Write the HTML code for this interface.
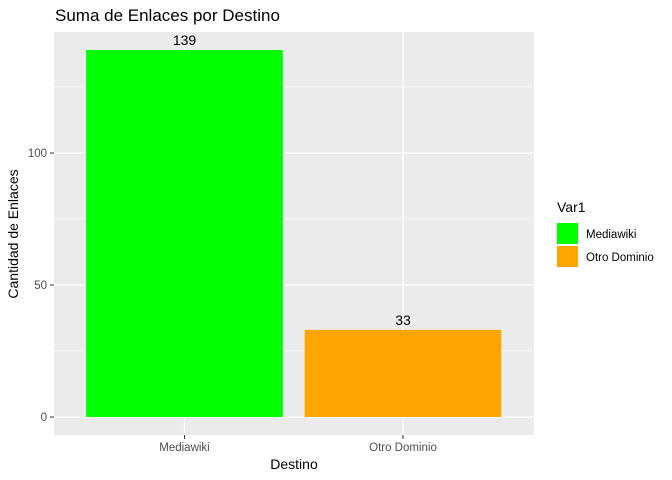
<!DOCTYPE html>
<html><head><meta charset="utf-8"><style>body{margin:0;background:#fff}svg{display:block;font-family:"Liberation Sans",sans-serif}</style></head>
<body>
<svg id="chart" width="672" height="480">
<text x="55" y="21" font-size="17" fill="#000">Suma de Enlaces por Destino</text>
<rect x="54" y="32" width="480" height="403" fill="#ebebeb"/>
<g id="grid"></g><g id="bars"></g><g id="axes"></g>
<text x="294" y="469" font-size="14" text-anchor="middle">Destino</text>
<text transform="translate(18,234) rotate(-90)" font-size="14" text-anchor="middle">Cantidad de Enlaces</text>
<text x="557" y="212" font-size="14">Var1</text>
<rect x="557" y="223" width="21" height="21" fill="#00ff00"/>
<text x="586" y="238" font-size="11.5">Mediawiki</text>
<rect x="557" y="246" width="21" height="21" fill="#ffa500"/>
<text x="586" y="261" font-size="11.5">Otro Dominio</text>
</svg>
<script>
const categories=["Mediawiki","Otro Dominio"];
const values=[139,33];
const colors=["#00ff00","#ffa500"];
const yTicks=[0,50,100];
const yMinor=[25,75,125];
const NS="http://www.w3.org/2000/svg";
const y=v=>417-v*2.64;
const x=i=>184.5+i*218.5;
const bw=0.9*218.5;
function mk(p,t,a){const e=document.createElementNS(NS,t);for(const k in a)e.setAttribute(k,a[k]);p.appendChild(e);return e;}
const g=document.getElementById('grid'),b=document.getElementById('bars'),ax=document.getElementById('axes');
yMinor.forEach(v=>{const l=mk(g,'line',{x1:54,x2:534,y1:y(v),y2:y(v),stroke:'#fff','stroke-width':0.6});

});
yTicks.forEach(v=>{const l=mk(g,'line',{x1:54,x2:534,y1:y(v),y2:y(v),stroke:'#fff','stroke-width':1.2});


const t=mk(ax,'line',{x1:50,x2:54,y1:y(v),y2:y(v),stroke:'#333','stroke-width':1});


const tx=mk(ax,'text',{x:47,y:y(v)+4,'font-size':11.5,'text-anchor':'end',fill:'#4d4d4d'});tx.textContent=v;

});
categories.forEach((c,i)=>{const l=mk(g,'line',{x1:x(i),x2:x(i),y1:32,y2:435,stroke:'#fff','stroke-width':1.2});


const r=mk(b,'rect',{x:x(i)-bw/2,y:y(values[i]),width:bw,height:y(0)-y(values[i]),fill:colors[i]});


const vl=mk(b,'text',{x:x(i),y:y(values[i])-5,'font-size':14,'text-anchor':'middle'});vl.textContent=values[i];


const t=mk(ax,'line',{x1:x(i),x2:x(i),y1:435,y2:439,stroke:'#333','stroke-width':1});


const tx=mk(ax,'text',{x:x(i),y:451,'font-size':11.5,'text-anchor':'middle',fill:'#4d4d4d'});tx.textContent=c;

});
</script>
</body></html>
